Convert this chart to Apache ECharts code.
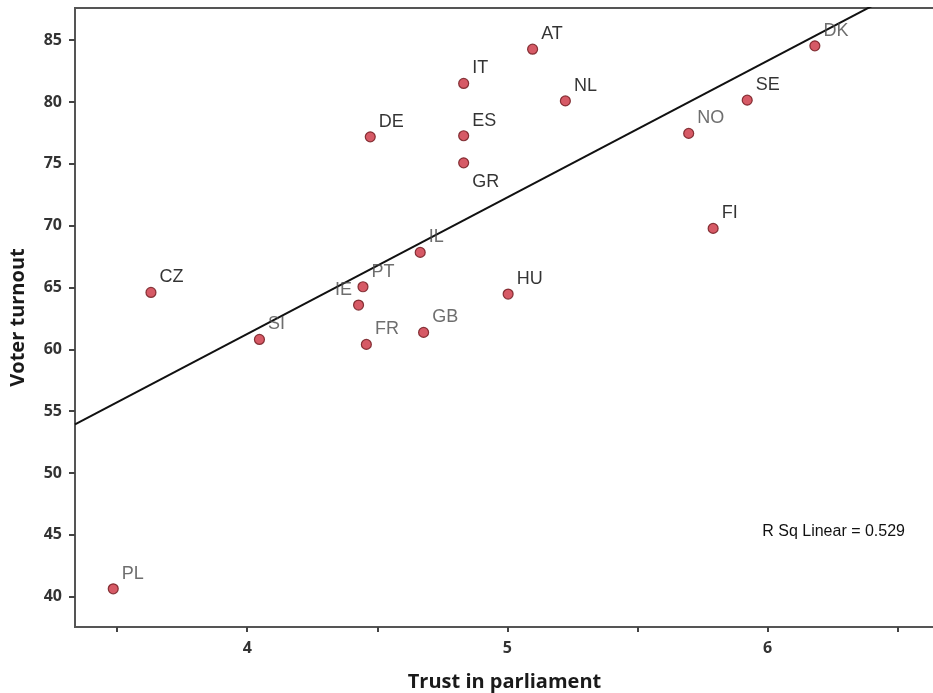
<!DOCTYPE html>
<html>
<head>
<meta charset="utf-8">
<script src="https://cdn.jsdelivr.net/npm/echarts@6/dist/echarts.min.js"></script>
<style>
  html, body { margin: 0; padding: 0; background: #fff; }
  #chart { width: 933px; height: 693px; }
</style>
</head>
<body>
<div id="chart"></div>
<script>
// country codes with trust in parliament (x) and voter turnout (y)
var countries = ['PL', 'CZ', 'SI', 'IE', 'PT', 'FR', 'DE', 'IL', 'GB', 'IT', 'ES', 'GR', 'HU', 'AT', 'NL', 'NO', 'FI', 'SE', 'DK'];
var trust = [3.485, 3.63, 4.047, 4.428, 4.445, 4.458, 4.473, 4.665, 4.678, 4.832, 4.832, 4.832, 5.003, 5.097, 5.223, 5.697, 5.791, 5.922, 6.182];
var turnout = [40.64, 64.6, 60.8, 63.58, 65.06, 60.4, 77.18, 67.84, 61.37, 81.5, 77.27, 75.08, 64.47, 84.27, 80.09, 77.46, 69.78, 80.15, 84.54];
// labels drawn in lighter grey in the original
var greyLabels = ['PL', 'SI', 'IE', 'PT', 'FR', 'IL', 'GB', 'NO', 'DK'];

// fitted line: turnout = a + b * trust
var fitA = 17.09;
var fitB = 11.04;
var rSq = 0.529;

var xMin = 3.338, xMax = 6.64;
var yMin = 37.55, yMax = 87.6;

var dom = document.getElementById('chart');
var myChart = echarts.init(dom, null, { renderer: 'canvas' });

var points = countries.map(function (c, i) {
  var item = {
    name: c,
    value: [trust[i], turnout[i]],
    label: {
      color: greyLabels.indexOf(c) >= 0 ? '#4a4a4a' : '#000'
    }
  };
  if (c === 'GR') {
    item.label.offset = [0, 19];
  }
  if (c === 'IE') {
    item.label.position = 'left';
    item.label.distance = 1;
  }
  return item;
});

var option = {
  backgroundColor: '#fff',
  animation: false,
  grid: {
    left: 75,
    right: -1,
    top: 8,
    bottom: 66,
    outerBoundsMode: 'none',
    show: true,
    borderColor: '#555',
    borderWidth: 2
  },
  xAxis: {
    type: 'value',
    min: xMin,
    max: xMax,
    splitNumber: 7,
    name: 'Trust in parliament',
    nameLocation: 'middle',
    nameGap: 45,
    nameTextStyle: {
      fontFamily: 'Open Sans',
      fontWeight: 'bold',
      fontSize: 20,
      color: '#1a1a1a'
    },
    splitLine: { show: false },
    axisLine: { lineStyle: { color: '#555', width: 2 } },
    axisTick: { length: 5, lineStyle: { color: '#444', width: 2 } },
    axisLabel: {
      margin: 13,
      fontFamily: 'Open Sans',
      fontWeight: 'bold',
      fontSize: 16,
      color: '#333',
      showMinLabel: false,
      showMaxLabel: false,
      formatter: function (v) {
        return Math.abs(v - Math.round(v)) < 1e-6 ? String(Math.round(v)) : '';
      }
    }
  },
  yAxis: {
    type: 'value',
    min: yMin,
    max: yMax,
    splitNumber: 10,
    name: 'Voter turnout',
    nameLocation: 'middle',
    nameGap: 47,
    nameTextStyle: {
      fontFamily: 'Open Sans',
      fontWeight: 'bold',
      fontSize: 20,
      color: '#1a1a1a'
    },
    splitLine: { show: false },
    axisLine: { lineStyle: { color: '#555', width: 2 } },
    axisTick: { length: 6, lineStyle: { color: '#444', width: 2 } },
    axisLabel: {
      margin: 13,
      fontFamily: 'Open Sans',
      fontWeight: 'bold',
      fontSize: 16,
      color: '#333',
      showMinLabel: false,
      showMaxLabel: false,
      formatter: function (v) {
        return Math.abs(v / 5 - Math.round(v / 5)) < 1e-6 ? String(Math.round(v)) : '';
      }
    }
  },
  graphic: [
    {
      type: 'text',
      right: 28,
      top: 524,
      style: {
        text: 'R Sq Linear = ' + rSq,
        font: '16px "Liberation Sans", Arial, sans-serif',
        fill: '#111'
      }
    }
  ],
  series: [
    {
      name: 'Fit',
      type: 'line',
      data: [[xMin, fitA + fitB * xMin], [xMax, fitA + fitB * xMax]],
      showSymbol: false,
      symbol: 'none',
      clip: true,
      lineStyle: { color: '#111', width: 2 },
      z: 2
    },
    {
      name: 'Countries',
      type: 'scatter',
      data: points,
      symbolSize: 10,
      itemStyle: {
        color: '#cc3140',
        borderColor: '#6b1419',
        borderWidth: 1.2
      },
      label: {
        show: true,
        position: 'right',
        distance: 3,
        offset: [0, -15],
        formatter: '{b}',
        fontFamily: '"Liberation Sans", Arial, sans-serif',
        fontSize: 18
      },
      z: 3
    }
  ]
};

if (option && typeof option === 'object') {
  myChart.setOption(option);
}

window.addEventListener('resize', myChart.resize);
</script>
</body>
</html>
